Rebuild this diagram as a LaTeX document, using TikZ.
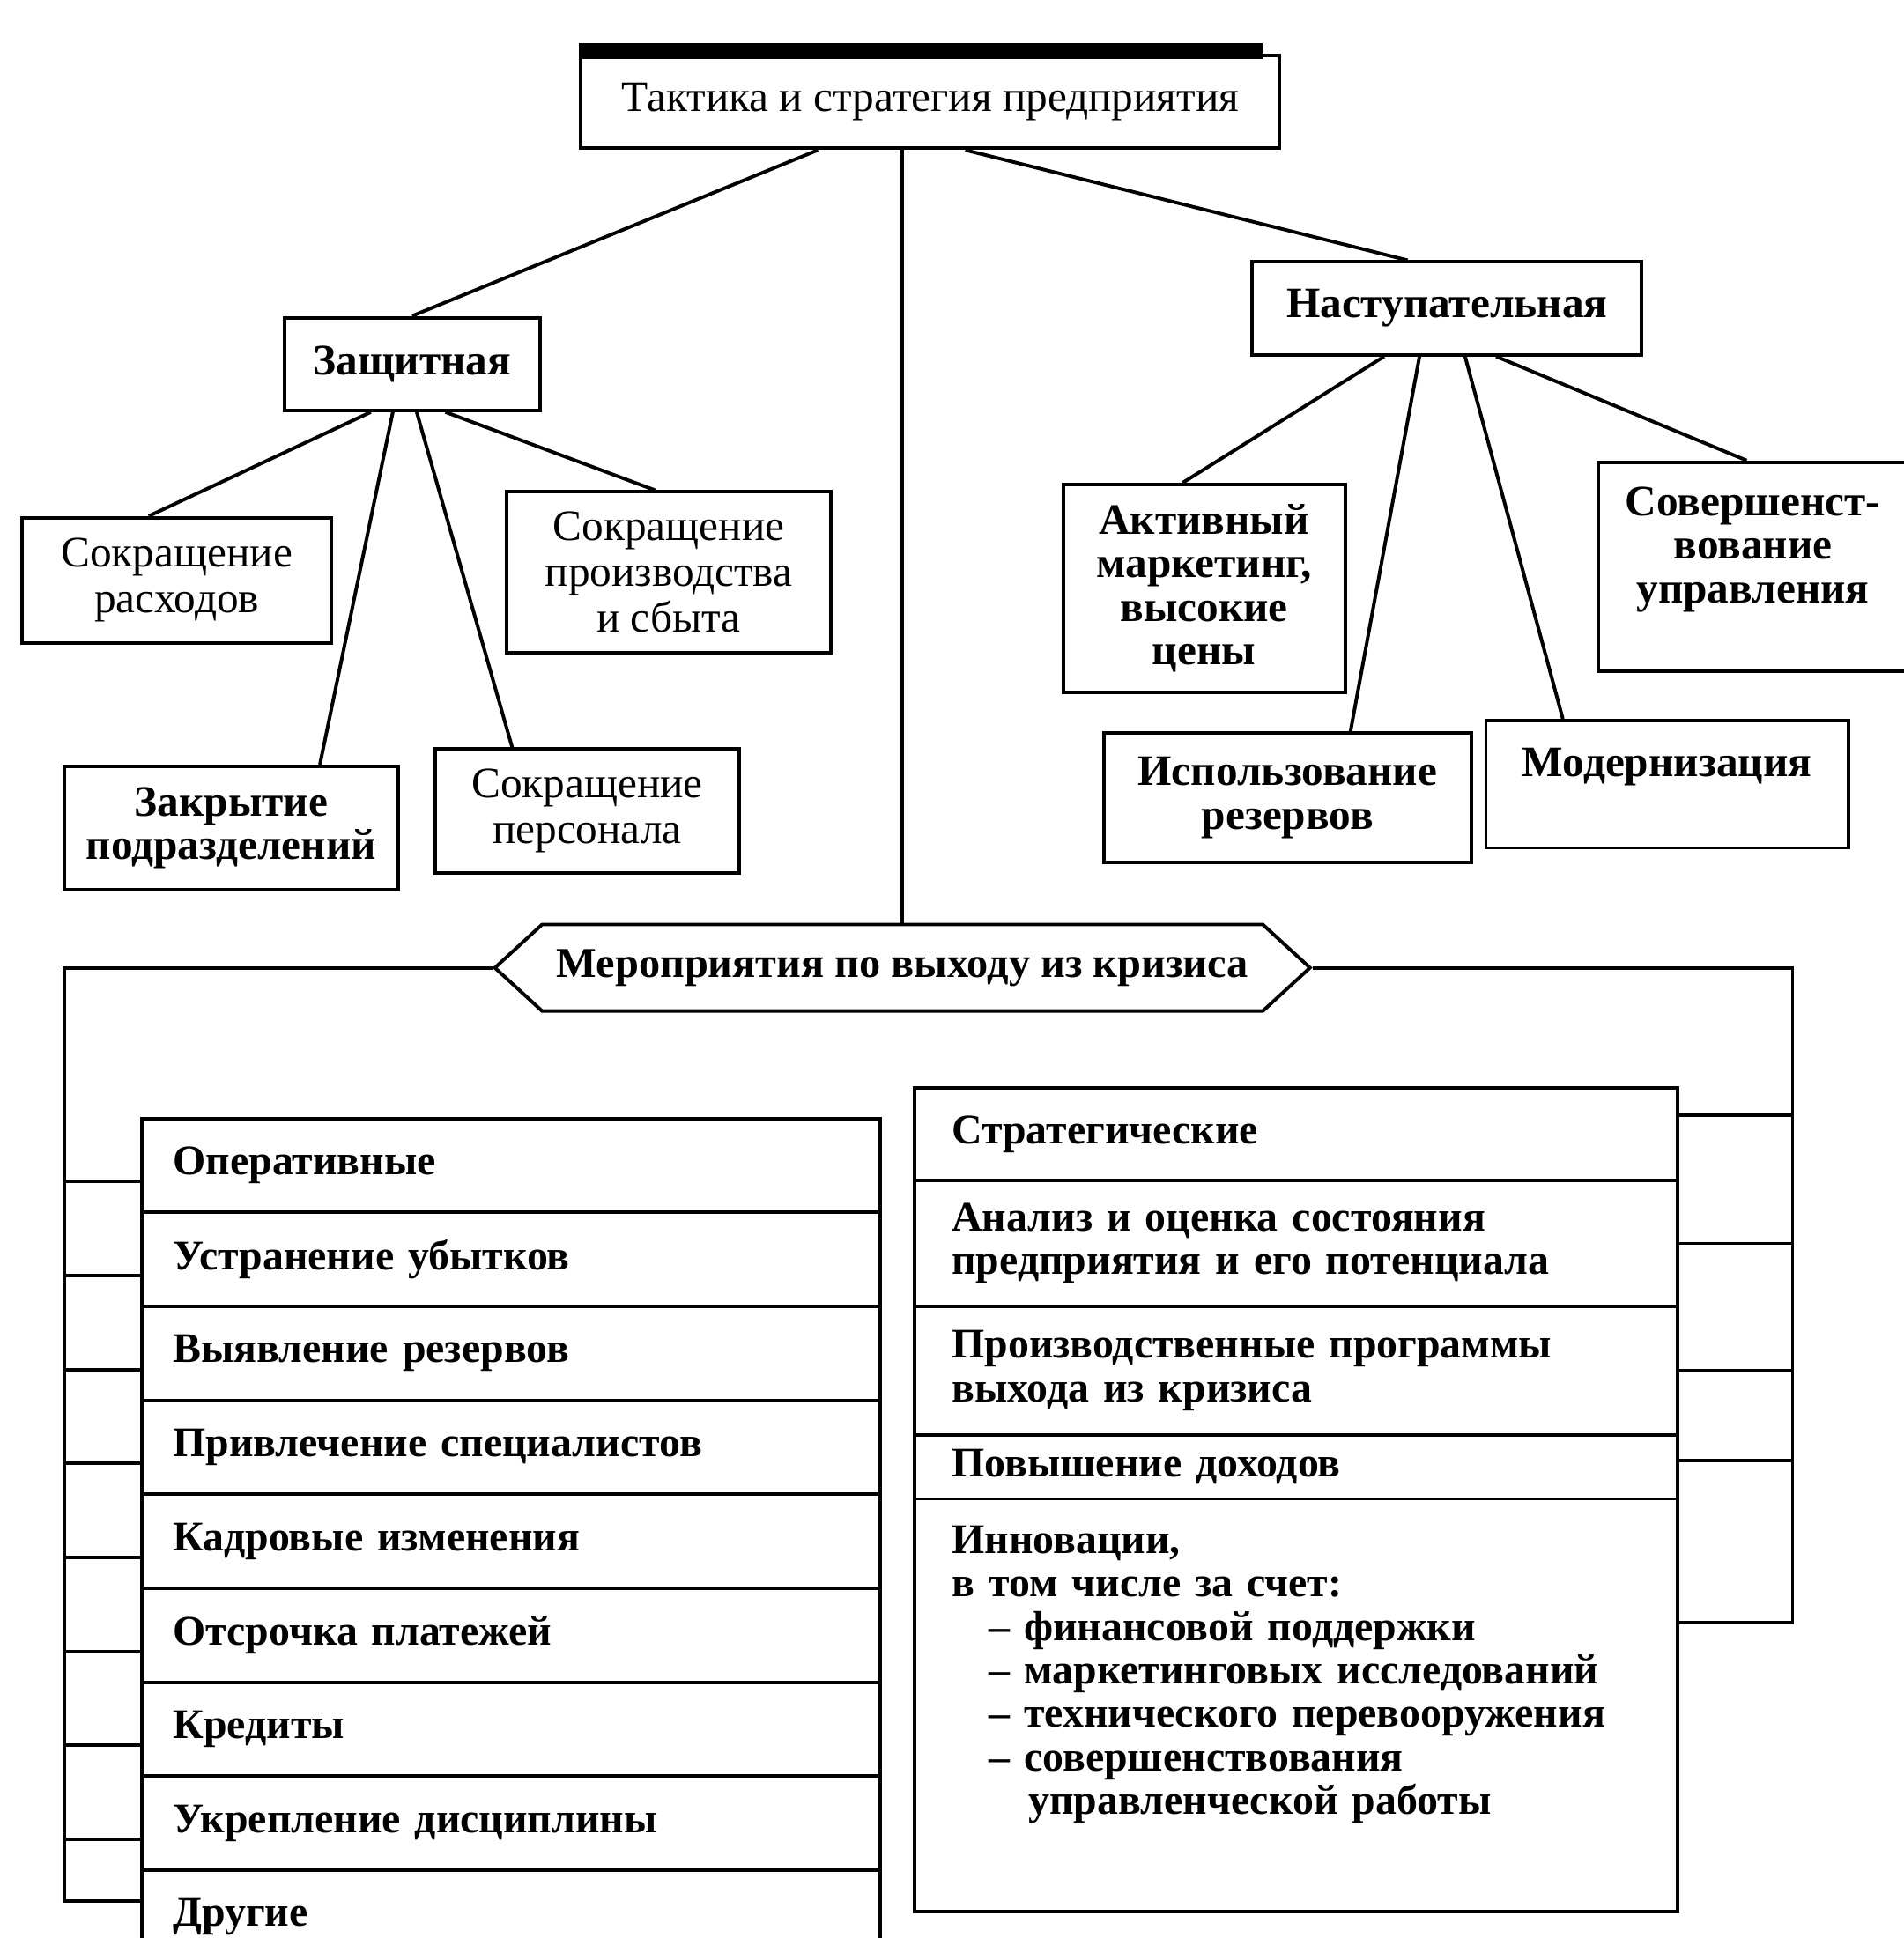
\documentclass[tikz,border=0pt]{standalone}
\usepackage{fontspec}
\setmainfont{Liberation Serif}
\usetikzlibrary{positioning,calc,shapes.symbols}

\begin{document}
\begin{tikzpicture}[thick,
  box/.style={draw,align=center,inner sep=1pt,font=\fontsize{10}{10}\selectfont\bfseries},
  plain/.style={box,font=\fontsize{10}{10.5}\selectfont},
  oprow/.style={draw,outer sep=0pt,text width=5.47cm,inner xsep=0.25cm,minimum height=0.76cm,align=left,font=\fontsize{9.7}{10}\selectfont\bfseries},
  strow/.style={oprow,text width=5.57cm,inner xsep=0.3cm}]
\useasboundingbox (0,0) rectangle (15.40,-15.68);
\clip (0,0) rectangle (15.40,-15.68);

% Top - tactics and strategy
\node[plain,minimum width=5.65cm,minimum height=0.75cm] (title) at (7.525,-0.825) {Тактика и стратегия предприятия};
\fill ([yshift=-0.4mm]title.north west) rectangle ([xshift=-1.5mm,yshift=0.9mm]title.north east);

% Left branch - defensive
\node[box,minimum width=2.07cm,minimum height=0.75cm] (defence) at (3.335,-2.945) {Защитная};
\node[plain,minimum width=2.5cm,minimum height=1.01cm] (costs) at (1.43,-4.695) {Сокращение\\расходов};
\node[plain,minimum width=2.62cm,minimum height=1.30cm] (output) at (5.41,-4.63) {Сокращение\\производства\\и сбыта};
\node[box,minimum width=2.70cm,minimum height=1.0cm] (closing) at (1.87,-6.70) {Закрытие\\подразделений};
\node[plain,minimum width=2.46cm,minimum height=1.0cm] (staff) at (4.75,-6.56) {Сокращение\\персонала};

% Right branch - offensive
\node[box,minimum width=3.15cm,minimum height=0.75cm] (attack) at (11.705,-2.495) {Наступательная};
\node[box,minimum width=2.28cm,minimum height=1.68cm] (marketing) at (9.74,-4.76) {Активный\\маркетинг,\\высокие\\цены};
\node[box,minimum width=2.5cm,minimum height=1.69cm] (management) at (14.18,-4.585) {Совершенст-\\вование\\управления\\ ~};
\node[box,minimum width=2.97cm,minimum height=1.05cm] (reserves) at (10.415,-6.455) {Использование\\резервов};
\node[box,minimum width=2.93cm,minimum height=1.03cm] (modern) at (13.485,-6.345) {Модернизация\\ ~};

\draw ($(title.south west)!0.34!(title.south east)$) -- (defence.north);
\draw ($(title.south west)!0.55!(title.south east)$) -- ($(attack.north west)!0.4!(attack.north east)$);
\foreach \s/\t/\e in {0.34/costs/0.41,0.425/closing/0.763,0.517/staff/0.256,0.628/output/0.458}
  \draw ($(defence.south west)!\s!(defence.south east)$) -- ($(\t.north west)!\e!(\t.north east)$);
\foreach \s/\t/\e in {0.34/marketing/0.425,0.43/reserves/0.67,0.546/modern/0.215,0.625/management/0.48}
  \draw ($(attack.south west)!\s!(attack.south east)$) -- ($(\t.north west)!\e!(\t.north east)$);

% Crisis measures
\node[draw,signal,signal to=west and east,signal pointer angle=85,minimum width=6.44cm,minimum height=0.70cm,
  font=\fontsize{9.8}{10}\selectfont\bfseries] (crisis) at (7.30,-7.83) {Мероприятия по выходу из кризиса};
\draw (crisis.north) -- (crisis.north |- title.south);

% Operative table
\node[oprow,anchor=north west] (op1) at (1.15,-9.05) {Оперативные};
\foreach \t [count=\i from 2,remember=\i as \j (initially 1)] in {Устранение убытков,Выявление резервов,
  Привлечение специалистов,Кадровые изменения,Отсрочка платежей,Кредиты,Укрепление дисциплины,Другие}
  \node[oprow,below=0pt of op\j] (op\i) {\t};

% Strategic table
\node[strow,anchor=north west,minimum height=0.75cm] (st1) at (7.40,-8.80) {Стратегические};
\node[strow,below=0pt of st1,minimum height=1.02cm] (st2) {Анализ и оценка состояния\\предприятия и его потенциала};
\node[strow,below=0pt of st2,minimum height=1.04cm] (st3) {Производственные программы\\выхода из кризиса};
\node[strow,below=0pt of st3,minimum height=0.51cm] (st4) {Повышение доходов};
\node[strow,below=0pt of st4,minimum height=3.34cm] (st5) {\parbox[c][3.1cm][t]{5.57cm}{\raggedright
  \vspace*{1mm}Инновации,\\
  в том числе за счет:\\
  \hspace*{3mm}– финансовой поддержки\\
  \hspace*{3mm}– маркетинговых исследований\\
  \hspace*{3mm}– технического перевооружения\\
  \hspace*{3mm}– совершенствования\\
  \hspace*{6.2mm}управленческой работы}};

% Frame
\coordinate (fl) at (0.52,-7.83);
\coordinate (fr) at (14.50,-7.83);
\coordinate (opend) at ([yshift=-2.5mm]op9.north west);
\coordinate (stend) at ([yshift=-10mm]st5.north east);
\draw (crisis.west) -- (fl) |- (opend);
\draw (crisis.east) -- (fr) |- (stend);
\foreach \i in {1,...,8}{
  \path ([yshift=-1.3mm]op\i.west) coordinate (l\i);
  \draw (l\i) -- (l\i -| fl);
}
\foreach \i/\dy in {1/1.5,2/0,3/0,4/0.5}{
  \path ([yshift=\dy mm]st\i.east) coordinate (r\i);
  \draw (r\i) -- (r\i -| fr);
}
\end{tikzpicture}
\end{document}
